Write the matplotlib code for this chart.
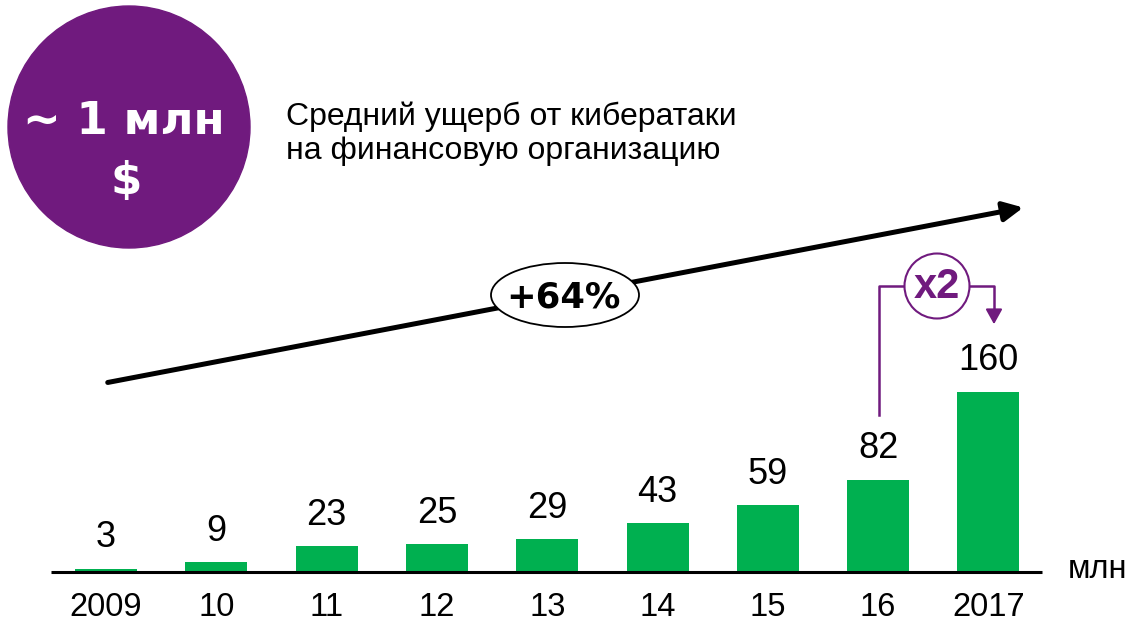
import matplotlib
matplotlib.use("Agg")
import matplotlib.pyplot as plt
from matplotlib.patches import Circle, Ellipse, FancyArrowPatch

plt.rcParams['font.family'] = ['Liberation Sans', 'DejaVu Sans']

years = ["2009", "10", "11", "12", "13", "14", "15", "16", "2017"]
values = [3, 9, 23, 25, 29, 43, 59, 82, 160]
unit_label = "млн"
badge_line1 = "~ 1 млн"
badge_line2 = "$"
subtitle = "Средний ущерб от кибератаки\nна финансовую организацию"
growth_label = "+64%"
mult_label = "x2"

GREEN = "#00B050"
PURPLE = "#701A7E"

W, H = 1128, 624
fig = plt.figure(figsize=(W / 100, H / 100), dpi=100)

# Bar axes (data coordinates)
ax = fig.add_axes([0, 0, 1, 1])
step = 110.3
x0 = 106
sc = 1.128
base = 52
ax.set_xlim(-x0 / step, (W - x0) / step)
ax.set_ylim(-base / sc, (H - base) / sc)
ax.axis('off')
xs = list(range(len(values)))
ax.bar(xs, values, width=62 / step, color=GREEN, zorder=2)
for x, v in zip(xs, values):
    ax.annotate(str(v), (x, v), xytext=(0, 9.5), textcoords='offset points',
                ha='center', va='bottom', fontsize=26, color='black')

# Overlay axes in pixel coordinates
ov = fig.add_axes([0, 0, 1, 1])
ov.set_xlim(0, W)
ov.set_ylim(H, 0)
ov.axis('off')
ov.patch.set_alpha(0)

# baseline
ov.plot([51, 1042], [572, 572], color='black', lw=2.2, solid_capstyle='butt')
for x, lab in zip(xs, years):
    ov.text(x0 + step * x, 607, lab, ha='center', va='center', fontsize=23.5)
ov.text(1097, 570, unit_label, ha='center', va='center', fontsize=23.5)

# badge
ov.add_patch(Circle((129, 127), 121, color=PURPLE, zorder=1))
ov.text(124, 121, badge_line1, ha='center', va='center', color='white',
        fontsize=32.5, fontweight='bold', family='DejaVu Sans')
ov.text(126, 182, badge_line2, ha='center', va='center', color='white',
        fontsize=32.5, fontweight='bold', family='DejaVu Sans')

ov.text(286, 134, subtitle, ha='left', va='center', fontsize=23, linespacing=1.16)

# trend arrow
ov.add_patch(FancyArrowPatch((105, 383), (1026, 207), arrowstyle='-|>,head_length=8.5,head_width=4.2',
                             mutation_scale=1.4, lw=3.6, color='black', zorder=3))
ov.add_patch(Ellipse((565, 295), 148, 64, facecolor='white', edgecolor='black', lw=1.3, zorder=4))
ov.text(563, 297, growth_label, ha='center', va='center', fontsize=25.5,
        fontweight='bold', family='DejaVu Sans', zorder=5)

# x2 bracket
ov.plot([879, 879, 905], [415, 286, 286], color=PURPLE, lw=1.8, zorder=3)
ov.plot([970, 994, 994], [286, 286, 316], color=PURPLE, lw=1.8, zorder=3)
ov.add_patch(FancyArrowPatch((994, 308), (994, 327), arrowstyle='-|>,head_length=6.5,head_width=3.6',
                             mutation_scale=1.4, lw=1.5, color=PURPLE, zorder=3))
ov.add_patch(Circle((937, 286), 32.5, facecolor='white', edgecolor=PURPLE, lw=1.5, zorder=4))
ov.text(937, 287, mult_label, ha='center', va='center', fontsize=30,
        fontweight='bold', color=PURPLE, zorder=5)

fig.savefig("out.png", dpi=100)
